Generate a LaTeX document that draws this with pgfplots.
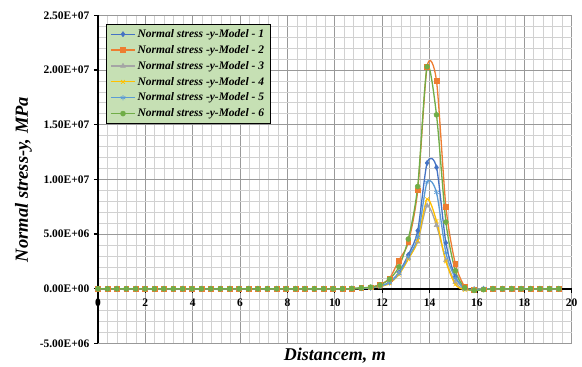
\documentclass[border=0pt]{standalone}
\usepackage{fontspec}
\setmainfont{Liberation Serif}
\usepackage{pgfplots}
\pgfplotsset{compat=1.18}
\usepackage{pgfplotstable}

\definecolor{c1}{HTML}{4472C4}
\definecolor{c2}{HTML}{ED7D31}
\definecolor{c3}{HTML}{A5A5A5}
\definecolor{c4}{HTML}{FFC000}
\definecolor{c5}{HTML}{5B9BD5}
\definecolor{c6}{HTML}{70AD47}
\definecolor{legfill}{HTML}{C6E0B4}

\pgfplotstableread{
x m1 m2 m3 m4 m5 m6
0 0 0 0 0 0 0
0.397 0 0 0 0 0 0
0.794 0 0 0 0 0 0
1.191 0 0 0 0 0 0
1.588 0 0 0 0 0 0
1.985 0 0 0 0 0 0
2.382 0 0 0 0 0 0
2.779 0 0 0 0 0 0
3.176 0 0 0 0 0 0
3.573 0 0 0 0 0 0
3.97 0 0 0 0 0 0
4.367 0 0 0 0 0 0
4.764 0 0 0 0 0 0
5.161 0 0 0 0 0 0
5.558 0 0 0 0 0 0
5.955 0 0 0 0 0 0
6.352 0 0 0 0 0 0
6.749 0 0 0 0 0 0
7.146 0 0 0 0 0 0
7.543 0 0 0 0 0 0
7.94 0 0 0 0 0 0
8.337 0 0 0 0 0 0
8.734 0 0 0 0 0 0
9.131 0 0 0 0 0 0
9.528 0 0 0 0 0 0
9.925 0 0 0 0 0 0
10.322 0 0 0 0 0 0
10.719 20000 20000 20000 20000 20000 20000
11.116 50000 60000 50000 50000 50000 80000
11.513 100000 150000 100000 100000 100000 150000
11.91 250000 400000 200000 200000 250000 350000
12.307 600000 950000 550000 500000 550000 880000
12.704 1500000 2600000 1400000 1300000 1400000 2000000
13.101 3100000 4250000 2800000 2700000 2900000 4550000
13.498 5300000 9000000 4300000 4400000 4700000 9350000
13.895 11500000 20300000 7600000 8200000 9750000 20300000
14.292 11100000 19000000 5800000 6200000 8800000 15900000
14.689 4200000 7500000 2600000 2500000 3300000 6100000
15.086 1100000 2300000 600000 400000 1000000 1650000
15.483 50000 200000 -50000 -100000 50000 100000
15.88 -50000 -100000 -50000 -50000 -50000 -150000
16.277 0 -50000 0 0 0 -80000
16.674 0 -30000 0 0 0 0
17.071 0 0 0 0 0 0
17.468 0 0 0 0 0 0
17.865 0 0 0 0 0 0
18.262 0 0 0 0 0 0
18.659 0 0 0 0 0 0
19.056 0 0 0 0 0 0
19.453 0 0 0 0 0 0
}\datatable

\begin{document}
\begin{tikzpicture}
\begin{axis}[
  scale only axis,
  width=473.7pt, height=328.2pt,
  xmin=0, xmax=20, ymin=-5e6, ymax=2.5e7,
  axis x line*=middle, axis y line*=left,
  hide obscured x ticks=false,
  scaled y ticks=false,
  clip=false,
  xtick={0,2,4,6,8,10,12,14,16,18,20},
  xticklabels={0,2,4,6,8,10,12,14,16,18,20},
  minor x tick num=4,
  ytick={-5e6,0,5e6,1e7,1.5e7,2e7,2.5e7},
  yticklabels={-5.00E+06,0.00E+00,5.00E+06,1.00E+07,1.50E+07,2.00E+07,2.50E+07},
  minor y tick num=4,
  grid=both,
  major grid style={draw=black!40, line width=0.7pt},
  minor grid style={draw=black!18, line width=0.7pt},
  axis line style={black, line width=1.5pt},
  tick style={black, line width=1.2pt},
  major tick length=4pt, minor tick length=0pt,
  tick align=outside,
  ticklabel style={font=\fontsize{11.5}{13}\selectfont\bfseries},
  xticklabel style={yshift=-3pt},
  yticklabel style={xshift=-1pt},
  xlabel={Distancem, m},
  ylabel={Normal stress-y, MPa},
  xlabel style={font=\fontsize{18}{19}\selectfont\bfseries\itshape, at={(rel axis cs:0.5,0)}, anchor=north, yshift=-1pt},
  ylabel style={font=\fontsize{18.5}{19}\selectfont\bfseries\itshape, yshift=1pt},
  legend style={at={(rel axis cs:0.017,0.973)}, anchor=north west, fill=legfill, draw=black, line width=0.6pt,
    font=\fontsize{11.5}{13}\selectfont\bfseries\itshape, row sep=2.4pt, inner xsep=4pt, inner ysep=3pt},
  legend cell align=left,
  legend image code/.code={\draw[mark repeat=2,mark phase=2] plot coordinates {(0pt,0pt) (12pt,0pt) (24pt,0pt)};},
  every axis plot/.append style={line width=1.3pt, smooth, tension=0.45},
]
\coordinate (SW) at (rel axis cs:0,0);
\coordinate (NE) at (rel axis cs:1,1);
\addplot[c1, mark=diamond*, mark size=2.6pt, mark options={solid, fill=c1, line width=0.5pt}] table[x=x,y=m1] {\datatable};
\addlegendentry{Normal stress -y-Model - 1}
\addplot[c2, mark=square*, mark size=2.4pt, mark options={solid, fill=c2, line width=0.5pt}] table[x=x,y=m2] {\datatable};
\addlegendentry{Normal stress -y-Model - 2}
\addplot[c3, mark=triangle*, mark size=2.7pt, mark options={solid, fill=c3, line width=0.5pt}] table[x=x,y=m3] {\datatable};
\addlegendentry{Normal stress -y-Model - 3}
\addplot[c4, mark=x, mark size=2.6pt, mark options={solid, line width=0.6pt}] table[x=x,y=m4] {\datatable};
\addlegendentry{Normal stress -y-Model - 4}
\addplot[c5, mark=asterisk, mark size=2.6pt, mark options={solid, line width=0.6pt}] table[x=x,y=m5] {\datatable};
\addlegendentry{Normal stress -y-Model - 5}
\addplot[c6, mark=*, mark size=2.5pt, mark options={solid, fill=c6, line width=0.5pt}] table[x=x,y=m6] {\datatable};
\addlegendentry{Normal stress -y-Model - 6}
\end{axis}
\pgfresetboundingbox
\path (SW) ++(-98pt,-23.5pt) coordinate (BL);
\path (NE) ++(10.3pt,15.3pt) coordinate (TR);
\path[use as bounding box] (BL) rectangle (TR);
\end{tikzpicture}
\end{document}
